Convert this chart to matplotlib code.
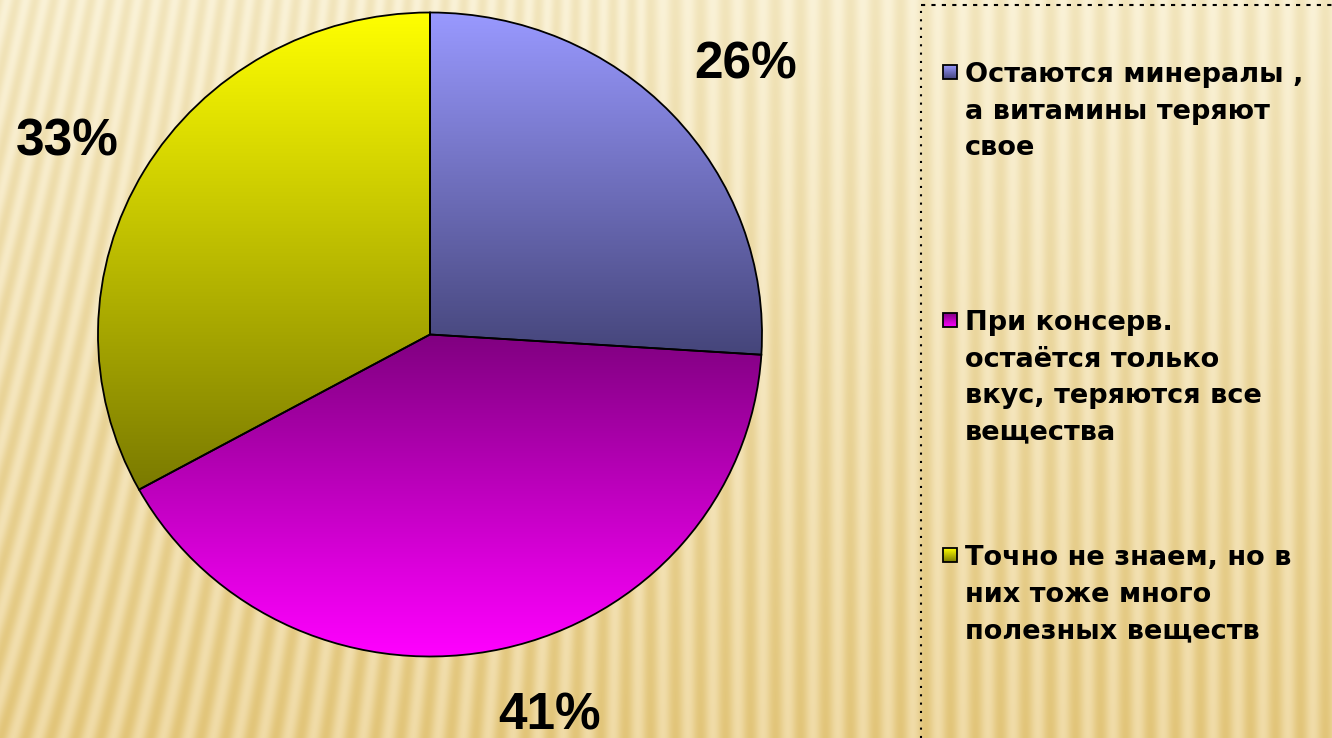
import numpy as np
import matplotlib.pyplot as plt
from matplotlib.colors import to_rgb
from matplotlib.patches import Rectangle

labels = [
    "Остаются минералы ,\nа витамины теряют\nсвое",
    "При консерв.\nостаётся только\nвкус, теряются все\nвещества",
    "Точно не знаем, но в\nних тоже много\nполезных веществ",
]
shares = [26, 41, 33]
top_colors = ["#9999ff", "#800080", "#ffff00"]
bottom_colors = ["#45457a", "#ff00ff", "#7a7a00"]

W, H = 1332, 738


def bg_texture():
    # beige slide background with soft vertical stripes
    yy, xx = np.mgrid[0:H, 0:W].astype(float)
    t = (yy / H)[..., None]
    top = np.array([250, 242, 215]) / 255
    bot = np.array([240, 219, 166]) / 255
    base = top * (1 - t) + bot * t
    k = 0.3 * np.clip(1 - xx / 650, 0, 1)
    phase = (xx - k * (H - yy)) / 25.0
    s = (0.5 + 0.5 * np.cos(2 * np.pi * phase))[..., None]
    amp = 0.6 + 0.4 * t
    dark = np.array([14, 22, 45]) / 255
    return np.clip(base - s * amp * dark, 0, 1)


def grad(c_top, c_bot, n=256):
    a = np.array(to_rgb(c_top))
    b = np.array(to_rgb(c_bot))
    t = np.linspace(0, 1, n)[:, None]
    return (a * (1 - t) + b * t)[:, None, :]


fig = plt.figure(figsize=(W / 100, H / 100), dpi=100)
ax = fig.add_axes([0, 0, 1, 1])
ax.imshow(bg_texture(), extent=(0, W, 0, H), zorder=0, interpolation='bilinear')

# pie on its own axes, squeezed a little vertically like the original
pie_ax = fig.add_axes([0, 0, 1, 1], zorder=2)
sy = 332 / 322
cx, cy, r = 430, (H - 334.5) * sy, 332
wedges, _ = pie_ax.pie(shares, startangle=90, counterclock=False, center=(cx, cy), radius=r,
                       frame=True,
                       wedgeprops=dict(edgecolor='black', linewidth=1.3, facecolor='none', zorder=3))
for w, ct, cb in zip(wedges, top_colors, bottom_colors):
    bb = w.get_path().get_extents()
    im = pie_ax.imshow(grad(ct, cb), extent=(bb.x0, bb.x1, bb.y0, bb.y1), origin='upper',
                       aspect='auto', zorder=2, interpolation='bilinear')
    im.set_clip_path(w)
pie_ax.set_xlim(0, W)
pie_ax.set_ylim(0, H * sy)
pie_ax.set_aspect('auto')
pie_ax.axis('off')

# percentage labels
pct_pos = [(746, 65), (550, 716), (67, 142)]
for v, (px, py) in zip(shares, pct_pos):
    pie_ax.text(px, (H - py) * sy, f"{v}%", ha='center', va='center', fontsize=37,
                fontweight='bold', family='Liberation Sans', color='black', zorder=4)

# legend box (dotted frame)
ax.plot([921, 921], [0, H - 5], color='black', lw=1.5, ls=(0, (1, 3)), zorder=4)
ax.plot([921, W], [H - 5, H - 5], color='black', lw=1.5, ls=(0, (2, 3)), zorder=4)

entry_y = [72, 320, 555]
for lab, ct, cb, ey in zip(labels, top_colors, bottom_colors, entry_y):
    x0, y0, s = 943, H - ey - 7, 14
    ax.imshow(grad(ct, cb), extent=(x0, x0 + s, y0, y0 + s), origin='upper',
              aspect='auto', zorder=4)
    ax.add_patch(Rectangle((x0, y0), s, s, fill=False, edgecolor='black', lw=1.3, zorder=5))
    ax.text(965, H - ey + 10, lab, ha='left', va='top', fontsize=19.5, fontweight='bold',
            family='DejaVu Sans', linespacing=1.53, color='black', zorder=5)

ax.set_xlim(0, W)
ax.set_ylim(0, H)
ax.set_aspect('auto')
ax.axis('off')
fig.savefig('out.png', dpi=100)
